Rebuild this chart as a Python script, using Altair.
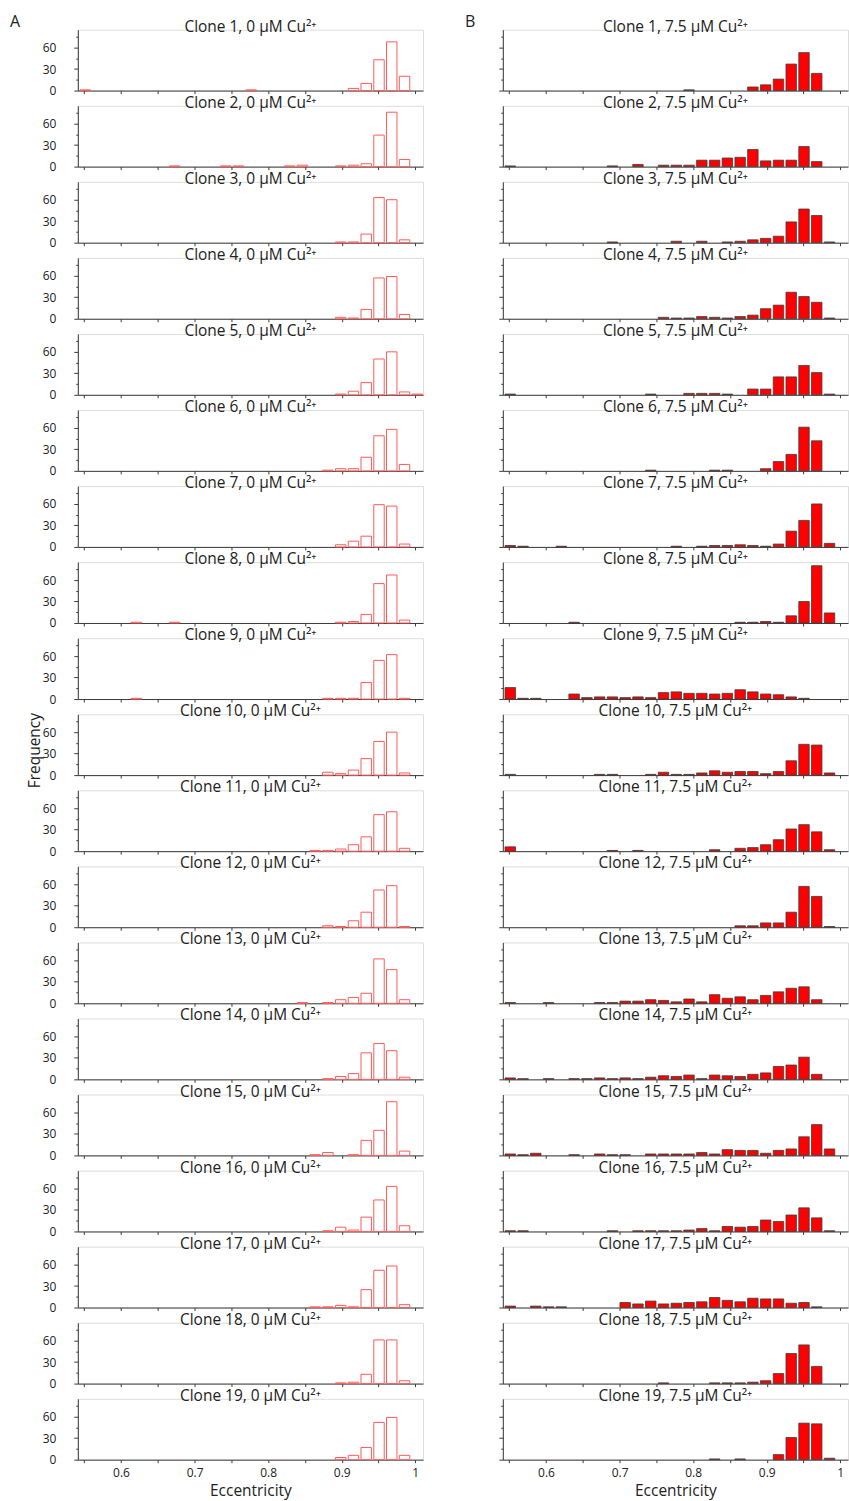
import altair as alt
import pandas as pd

# ---- data ----
# left edge of each histogram bar (eccentricity)
bin_start = [0.5443, 0.5617, 0.5790, 0.5964, 0.6137, 0.6311, 0.6485, 0.6658, 0.6832,
             0.7005, 0.7179, 0.7353, 0.7526, 0.7700, 0.7873, 0.8047, 0.8221, 0.8394,
             0.8568, 0.8741, 0.8915, 0.9089, 0.9262, 0.9436, 0.9609, 0.9783, 0.9957]

clones = list(range(1, 20))

# counts per bar index (bars not listed are 0), 0 uM Cu2+
counts_0uM = [
    {0: 1, 13: 1, 21: 3, 22: 10, 23: 43, 24: 68, 25: 20},
    {7: 1, 11: 1, 12: 1, 16: 1, 17: 2, 20: 1, 21: 2, 22: 4, 23: 44, 24: 76, 25: 10},
    {20: 1, 21: 1, 22: 12, 23: 63, 24: 60, 25: 4},
    {20: 2, 21: 1, 22: 13, 23: 57, 24: 59, 25: 6},
    {20: 1, 21: 5, 22: 17, 23: 50, 24: 60, 25: 4, 26: 1},
    {19: 1, 20: 3, 21: 3, 22: 19, 23: 49, 24: 58, 25: 9},
    {20: 3, 21: 8, 22: 15, 23: 59, 24: 57, 25: 4},
    {4: 1, 7: 1, 20: 1, 21: 2, 22: 12, 23: 55, 24: 67, 25: 4},
    {4: 1, 19: 1, 20: 1, 21: 1, 22: 23, 23: 54, 24: 62, 25: 1},
    {19: 4, 20: 2, 21: 7, 22: 23, 23: 47, 24: 60, 25: 3},
    {18: 1, 19: 1, 20: 3, 21: 9, 22: 20, 23: 51, 24: 55, 25: 4},
    {19: 2, 20: 1, 21: 9, 22: 21, 23: 52, 24: 58, 25: 1},
    {17: 1, 19: 1, 20: 5, 21: 8, 22: 14, 23: 62, 24: 47, 25: 5},
    {19: 1, 20: 4, 21: 8, 22: 37, 23: 50, 24: 40, 25: 3},
    {18: 1, 19: 4, 21: 1, 22: 21, 23: 35, 24: 75, 25: 6},
    {19: 1, 20: 6, 21: 2, 22: 20, 23: 44, 24: 63, 25: 8},
    {18: 1, 19: 1, 20: 3, 21: 1, 22: 25, 23: 52, 24: 58, 25: 4},
    {20: 1, 21: 2, 22: 13, 23: 61, 24: 61, 25: 4},
    {20: 3, 21: 6, 22: 17, 23: 52, 24: 59, 25: 6},
]

# counts per bar index, 7.5 uM Cu2+
counts_75uM = [
    {14: 1, 19: 5, 20: 8, 21: 16, 22: 37, 23: 53, 24: 24},
    {0: 1, 8: 1, 10: 3, 12: 2, 13: 2, 14: 2, 15: 9, 16: 9, 17: 12, 18: 13, 19: 24,
     20: 8, 21: 9, 22: 9, 23: 28, 24: 7},
    {8: 1, 13: 2, 15: 2, 17: 1, 18: 2, 19: 4, 20: 6, 21: 9, 22: 29, 23: 47, 24: 38, 25: 1},
    {12: 2, 13: 1, 14: 1, 15: 3, 16: 2, 17: 1, 18: 3, 19: 5, 20: 14, 21: 19, 22: 37,
     23: 31, 24: 23, 25: 1},
    {0: 1, 11: 1, 14: 2, 15: 2, 16: 2, 17: 1, 19: 8, 20: 8, 21: 25, 22: 25, 23: 41,
     24: 31, 25: 1},
    {11: 1, 16: 1, 17: 1, 20: 3, 21: 13, 22: 23, 23: 61, 24: 42},
    {0: 2, 1: 1, 4: 1, 13: 1, 15: 1, 16: 2, 17: 2, 18: 3, 19: 2, 20: 1, 21: 4, 22: 22,
     23: 37, 24: 60, 25: 5},
    {5: 1, 18: 1, 19: 1, 20: 2, 21: 1, 22: 10, 23: 30, 24: 80, 25: 14},
    {0: 16, 1: 1, 2: 1, 5: 7, 6: 2, 7: 3, 8: 3, 9: 2, 10: 3, 11: 2, 12: 9, 13: 10, 14: 8,
     15: 8, 16: 7, 17: 8, 18: 13, 19: 10, 20: 7, 21: 6, 22: 3, 23: 1},
    {0: 1, 7: 1, 8: 1, 11: 1, 12: 4, 13: 1, 14: 1, 15: 3, 16: 6, 17: 4, 18: 5, 19: 5,
     20: 2, 21: 5, 22: 20, 23: 43, 24: 42, 25: 3},
    {0: 6, 8: 1, 10: 1, 16: 2, 18: 4, 19: 5, 20: 9, 21: 16, 22: 31, 23: 37, 24: 27, 25: 2},
    {18: 2, 19: 2, 20: 6, 21: 6, 22: 21, 23: 57, 24: 43, 25: 1},
    {0: 1, 3: 1, 7: 1, 8: 1, 9: 3, 10: 3, 11: 5, 12: 4, 13: 2, 14: 6, 15: 2, 16: 12,
     17: 7, 18: 9, 19: 5, 20: 11, 21: 16, 22: 21, 23: 23, 24: 5},
    {0: 2, 1: 1, 3: 1, 5: 1, 6: 1, 7: 2, 8: 1, 9: 2, 10: 1, 11: 3, 12: 5, 13: 4, 14: 6,
     15: 1, 16: 6, 17: 5, 18: 4, 19: 7, 20: 9, 21: 18, 22: 20, 23: 31, 24: 7},
    {0: 2, 1: 1, 2: 3, 5: 1, 7: 2, 8: 1, 9: 1, 11: 2, 12: 2, 13: 2, 14: 2, 15: 4, 16: 2,
     17: 8, 18: 7, 19: 7, 20: 3, 21: 7, 22: 9, 23: 26, 24: 43, 25: 9},
    {0: 1, 1: 1, 8: 1, 10: 1, 11: 1, 12: 1, 13: 1, 14: 2, 15: 4, 16: 1, 17: 7, 18: 6,
     19: 7, 20: 16, 21: 14, 22: 23, 23: 33, 24: 19, 25: 1},
    {0: 2, 2: 2, 3: 1, 4: 1, 9: 7, 10: 5, 11: 9, 12: 5, 13: 6, 14: 7, 15: 8, 16: 14,
     17: 10, 18: 8, 19: 13, 20: 12, 21: 12, 22: 6, 23: 7, 24: 1},
    {12: 1, 16: 1, 17: 1, 18: 1, 19: 2, 20: 4, 21: 14, 22: 42, 23: 54, 24: 24},
    {16: 1, 18: 1, 21: 7, 22: 31, 23: 51, 24: 50, 25: 2},
]

conditions = ["0 µM Cu²⁺", "7.5 µM Cu²⁺"]
panel_letters = ["A", "B"]
x_tick_values = [0.55, 0.6, 0.65, 0.7, 0.75, 0.8, 0.85, 0.9, 0.95, 1.0]
y_tick_values = [0, 15, 30, 45, 60, 75]

# ---- styling ----
FONT = "Open Sans"
BAR_W = 0.0142
PW, PH = 346, 61
X_DOMAIN = [0.5413, 1.0105]
Y_DOMAIN = [0, 85]
AXIS_COLOR = "#3a3a3a"
TEXT_COLOR = "#222222"


def panel(counts, clone, col, row):
    rows = [{"start": bin_start[i], "count": c} for i, c in sorted(counts.items()) if c > 0]
    df = pd.DataFrame(rows)
    bottom = row == len(clones) - 1
    left = col == 0

    x_axis = alt.Axis(
        values=x_tick_values, grid=False, labels=bottom,
        labelExpr="round(datum.value*20) % 2 === 0 ? format(datum.value, '~g') : ''",
        tickSize=3, labelPadding=5, labelFontSize=12, labelFont=FONT,
        labelColor=TEXT_COLOR, titleFont=FONT, titleFontSize=15.5, titleFontWeight="normal",
        titleColor=TEXT_COLOR, titlePadding=5,
        domainColor=AXIS_COLOR, tickColor=AXIS_COLOR, labelFlush=False,
    )
    y_axis = alt.Axis(
        values=y_tick_values, grid=False, labels=left,
        labelExpr="datum.value % 30 === 0 ? datum.label : ''",
        tickSize={"condition": {"test": "datum.value % 30 === 0", "value": 4}, "value": 2},
        labelPadding=18, labelFontSize=12, labelFont=FONT,
        labelColor=TEXT_COLOR, titleFont=FONT, titleFontSize=15.5, titleFontWeight="normal",
        titleColor=TEXT_COLOR, titleX=-43, titleY=36, titleAngle=-90,
        titleAlign="center", titleBaseline="middle",
        domainColor=AXIS_COLOR, tickColor=AXIS_COLOR,
    )
    if left:
        mark = alt.Chart(df).mark_bar(fill="white", stroke="#ff5a5a", strokeWidth=1)
    else:
        mark = alt.Chart(df).mark_bar(fill="#ff0000", stroke="#3c3c3c", strokeWidth=0.8)

    x_title = "Eccentricity" if bottom else None
    y_title = "Frequency" if (left and row == 9) else None

    bars = mark.transform_calculate(
        end=f"datum.start + {BAR_W}"
    ).encode(
        x=alt.X("start:Q", scale=alt.Scale(domain=X_DOMAIN, nice=False, zero=False),
                axis=x_axis, title=x_title),
        x2="end:Q",
        y=alt.Y("count:Q", scale=alt.Scale(domain=Y_DOMAIN, nice=False),
                axis=y_axis, title=y_title),
        y2=alt.datum(0),
    )
    label = alt.Chart(
        pd.DataFrame({"label": [f"Clone {clone}, {conditions[col]}"]})
    ).mark_text(
        font=FONT, fontSize=15.5, align="center", baseline="alphabetic", color=TEXT_COLOR
    ).encode(x=alt.value(PW / 2), y=alt.value(2), text="label:N")
    layers = [bars, label]
    if row == 0:
        letter = alt.Chart(pd.DataFrame({"t": [panel_letters[col]]})).mark_text(
            font=FONT, fontSize=16, align="left", baseline="alphabetic", color=TEXT_COLOR
        ).encode(
            x=alt.value(-68 if left else -38), y=alt.value(-2.5), text="t:N"
        )
        layers.append(letter)
    return alt.layer(*layers).properties(width=PW, height=PH)


panels = []
for r in range(len(clones)):
    panels.append(panel(counts_0uM[r], clones[r], 0, r))
    panels.append(panel(counts_75uM[r], clones[r], 1, r))

chart = alt.concat(
    *panels, columns=2, spacing={"row": 15.24, "column": 80}, bounds="flush"
).properties(
    padding={"left": 9, "top": 12, "right": 0, "bottom": 0}
).configure_view(strokeWidth=0).configure(background="white")

chart.save("out.html", embed_options={"renderer": "svg", "actions": False})
